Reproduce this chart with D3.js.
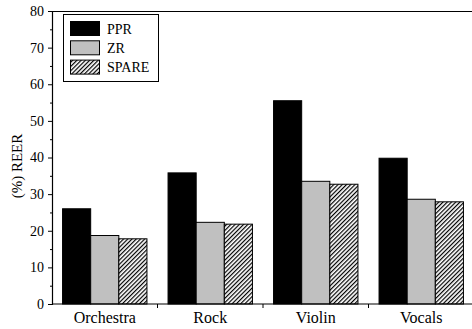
<!DOCTYPE html>
<html>
<head>
<meta charset="utf-8">
<script src="https://cdn.jsdelivr.net/npm/d3@7"></script>
<style>
  html, body { margin: 0; padding: 0; background: #fff; }
  svg { display: block; }
</style>
</head>
<body>
<svg id="chart" width="472" height="329"></svg>
<script>
// REER per music genre for the three methods
const categories = ["Orchestra", "Rock", "Violin", "Vocals"];
const seriesNames = ["PPR", "ZR", "SPARE"];
const pprValues = [26.0, 35.8, 55.5, 39.8];
const zrValues = [18.7, 22.3, 33.5, 28.6];
const spareValues = [17.8, 21.8, 32.7, 27.9];
const yTicks = [0, 10, 20, 30, 40, 50, 60, 70, 80];
const yMinorTicks = [5, 15, 25, 35, 45, 55, 65, 75];
const yLabel = "(%) REER";

const FONT = "'Liberation Serif', 'Times New Roman', Times, serif";
const series = [pprValues, zrValues, spareValues];
const fills = ["#000", "#c0c0c0", "url(#hatch)"];

const svg = d3.select("#chart");
const margin = { left: 52, top: 11, right: -2, bottom: 25 };
const W = 472, H = 329;
const x0 = margin.left, x1 = W - margin.right;
const y0 = H - margin.bottom, y1 = margin.top;

// diagonal hatch for SPARE
const defs = svg.append("defs");
const pat = defs.append("pattern")
  .attr("id", "hatch").attr("patternUnits", "userSpaceOnUse")
  .attr("width", 3).attr("height", 3)
  .attr("patternTransform", "rotate(45)");
pat.append("rect").attr("width", 3).attr("height", 3).attr("fill", "#fff");
pat.append("line").attr("x1", 0.6).attr("y1", 0).attr("x2", 0.6).attr("y2", 3)
  .attr("stroke", "#000").attr("stroke-width", 1.2);

const x = d3.scaleBand().domain(categories).range([x0, x1]).paddingInner(0).paddingOuter(0);
// the three bars fill the middle 80% of each category band
const xs = d3.scaleBand().domain(seriesNames)
  .range([x.bandwidth() * 0.1, x.bandwidth() * 0.9]).paddingInner(0).paddingOuter(0);
const y = d3.scaleLinear().domain([0, 80]).range([y0, y1]);

// bars
const groups = svg.append("g").selectAll("g").data(categories).join("g")
  .attr("transform", d => `translate(${x(d)},0)`);
groups.selectAll("rect")
  .data((c, i) => seriesNames.map((s, k) => ({ s, v: series[k][i], k })))
  .join("rect")
  .attr("x", d => xs(d.s))
  .attr("y", d => y(d.v))
  .attr("width", xs.bandwidth())
  .attr("height", d => y0 - y(d.v))
  .attr("fill", d => fills[d.k])
  .attr("stroke", "#000").attr("stroke-width", 1);

// frame: top line
svg.append("line").attr("x1", x0).attr("x2", W).attr("y1", y1 + 0.5).attr("y2", y1 + 0.5)
  .attr("stroke", "#000").attr("stroke-width", 1.2);

// y axis
const yAxis = d3.axisLeft(y).tickValues(yTicks).tickSize(4).tickPadding(4);
const gy = svg.append("g").attr("transform", `translate(${x0},0)`).call(yAxis)
  .attr("font-family", FONT).attr("font-size", 14);
gy.select(".domain").attr("stroke-width", 1.2);
gy.selectAll("text").style("font-family", FONT).style("font-size", "14px");
svg.append("g").attr("transform", `translate(${x0},0)`)
  .call(d3.axisLeft(y).tickValues(yMinorTicks).tickSize(2).tickFormat(""))
  .select(".domain").remove();

// x axis with ticks between categories
const gx = svg.append("g").attr("transform", `translate(0,${y0})`);
gx.append("line").attr("x1", x0).attr("x2", W).attr("stroke", "#000").attr("stroke-width", 1.2);
gx.selectAll("line.sep").data(categories.slice(1)).join("line")
  .attr("class", "sep")
  .attr("x1", d => x(d)).attr("x2", d => x(d)).attr("y1", 0).attr("y2", 4)
  .attr("stroke", "#000");
gx.selectAll("text").data(categories).join("text")
  .attr("x", d => x(d) + x.bandwidth() / 2)
  .attr("y", 19)
  .attr("text-anchor", "middle")
  .style("font-family", FONT)
  .style("font-size", "16px")
  .text(d => d);

// y label
svg.append("text")
  .attr("transform", "translate(22,166) rotate(-90)")
  .attr("text-anchor", "middle")
  .style("font-family", FONT)
  .style("font-size", "15px")
  .text(yLabel);

// legend
const lg = svg.append("g").attr("transform", "translate(63,14)");
lg.append("rect").attr("x", 0.5).attr("y", 0.5).attr("width", 95).attr("height", 67)
  .attr("fill", "#fff").attr("stroke", "#000").attr("stroke-width", 1);
seriesNames.forEach((s, k) => {
  const yy = 7.5 + k * 19.3;
  lg.append("rect").attr("x", 7.5).attr("y", yy).attr("width", 29).attr("height", 14)
    .attr("fill", fills[k]).attr("stroke", "#000").attr("stroke-width", 1);
  lg.append("text").attr("x", 44).attr("y", yy + 12)
    .style("font-family", FONT).style("font-size", "14px").text(s);
});
</script>
</body>
</html>
